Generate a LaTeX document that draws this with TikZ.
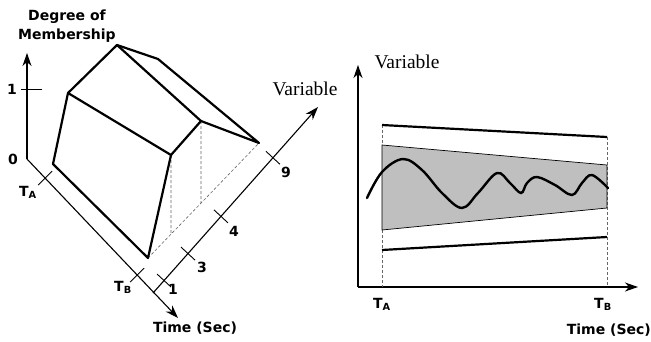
\documentclass[tikz,border=0pt]{standalone}
\usepackage{fontspec}
\setmainfont{Liberation Serif}
\newfontfamily\labelsans{DejaVu Sans}
\usetikzlibrary{arrows.meta,calc}

\begin{document}
\begin{tikzpicture}[x=1pt,y=-1pt]
    % styles
    \tikzset{
      axis/.style      = {line width=1.1pt, draw=black, -{Stealth[length=13pt,width=9pt,inset=4pt]}},
      tick/.style      = {line width=0.9pt, draw=black},
      edge/.style      = {line width=2.2pt, draw=black, line join=round},
      hidden/.style    = {line width=0.6pt, draw=black!60, dash pattern=on 3pt off 2pt},
      bound/.style     = {line width=2.2pt, draw=black},
      band/.style      = {fill=black!25, draw=black, line width=0.7pt},
      signal/.style    = {line width=2.4pt, draw=black, line cap=round},
      boldlabel/.style = {font=\labelsans\bfseries\fontsize{14}{19}\selectfont, inner sep=0pt},
      varlabel/.style  = {font=\fontsize{19.5}{21}\selectfont, inner sep=0pt}
    }
    \useasboundingbox (0,0) rectangle (651,341);

    % Left axes:
    \coordinate (o)  at (27,159);
    \coordinate (up) at (27,53);
    \coordinate (tm) at (178,318);
    \coordinate (v0) at (153,293);
    \coordinate (v1) at (318,107);
    \draw[axis] (o) -- (up);
    \draw[axis] (o) -- (tm);
    \draw[axis] (v0) -- (v1);

    % Ticks:
    \draw[tick] (21,89) -- (42,89);
    \draw[tick] ($(o)!0.12!(tm)$) ++(-7,7) -- ++(14,-14);
    \draw[tick] ($(o)!0.73!(tm)$) ++(-7,7) -- ++(14,-14);
    \foreach \t in {0.067,0.212,0.412,0.727}
      \draw[tick] ($(v0)!\t!(v1)$) ++(-7,-6.5) -- ++(14,13);

    % Membership surface:
    \coordinate (p1) at (53,164);
    \coordinate (p2) at (68,93);
    \coordinate (p3) at (171,155);
    \coordinate (p4) at (148,258);
    \coordinate (p5) at (117,45);
    \coordinate (p6) at (158,59);
    \coordinate (p7) at (201,121);
    \coordinate (p8) at (259,143);
    \coordinate (q3) at ($(p4)!0.207!(p8)$);
    \coordinate (q7) at ($(p4)!0.477!(p8)$);

    \draw[hidden] (p4) -- (p8);
    \draw[hidden] (p3) -- (q3);
    \draw[hidden] (p7) -- (q7);

    \draw[edge] (p4) -- (p1) -- (p2) -- (p3) -- cycle;
    \draw[edge] (p2) -- (p5) -- (p6) -- (p8) -- (p7) -- (p3);
    \draw[edge] (p5) -- (p7);

    % Left labels:
    \node[boldlabel, align=center] (dom) at (67,26) {Degree of\\Membership};
    \node[boldlabel] (one)   at (12,89)   {1};
    \node[boldlabel] (zero)  at (13,159)  {0};
    \node[boldlabel] (ta)    at (28,192)  {T\textsubscript{A}};
    \node[boldlabel] (tb)    at (123,287) {T\textsubscript{B}};
    \node[boldlabel] (v1lab) at (173,289) {1};
    \node[boldlabel] (v3lab) at (202,267) {3};
    \node[boldlabel] (v4lab) at (234,231) {4};
    \node[boldlabel] (v9lab) at (286,172) {9};
    \node[boldlabel] (timel) at (195,328) {Time (Sec)};
    \node[varlabel]  (varl)  at (305,89)  {Variable};

    % Right axes:
    \coordinate (ro)  at (358,287);
    \coordinate (rup) at (358,65);
    \coordinate (rt)  at (638,287);
    \draw[axis] (ro) -- (rup);
    \draw[axis] (ro) -- (rt);

    % Bounds:
    \coordinate (a1) at (382,125);
    \coordinate (b1) at (607,137);
    \coordinate (a2) at (382,250);
    \coordinate (b2) at (607,237);
    \draw[hidden] (a1) -- (a1 |- ro);
    \draw[hidden] (b1) -- (b1 |- ro);
    \draw[band] (382,145) -- (607,165) -- (607,208) -- (382,230) -- cycle;
    \draw[bound] (a1) -- (b1);
    \draw[bound] (a2) -- (b2);

    % Signal:
    \draw[signal] plot[smooth, tension=0.6] coordinates {
      (367,198) (382,172) (403,159) (422,170) (442,193) (462,208)
      (478,193) (497,173) (510,183) (521,193) (527,183) (537,177)
      (555,185) (572,195) (582,183) (592,175) (608,188)};

    % Right labels:
    \node[varlabel]  (varr)  at (407,62)  {Variable};
    \node[boldlabel] (tar)   at (382,304) {T\textsubscript{A}};
    \node[boldlabel] (tbr)   at (603,304) {T\textsubscript{B}};
    \node[boldlabel, anchor=east] (timer) at (651,330) {Time (Sec)};
\end{tikzpicture}
\end{document}
